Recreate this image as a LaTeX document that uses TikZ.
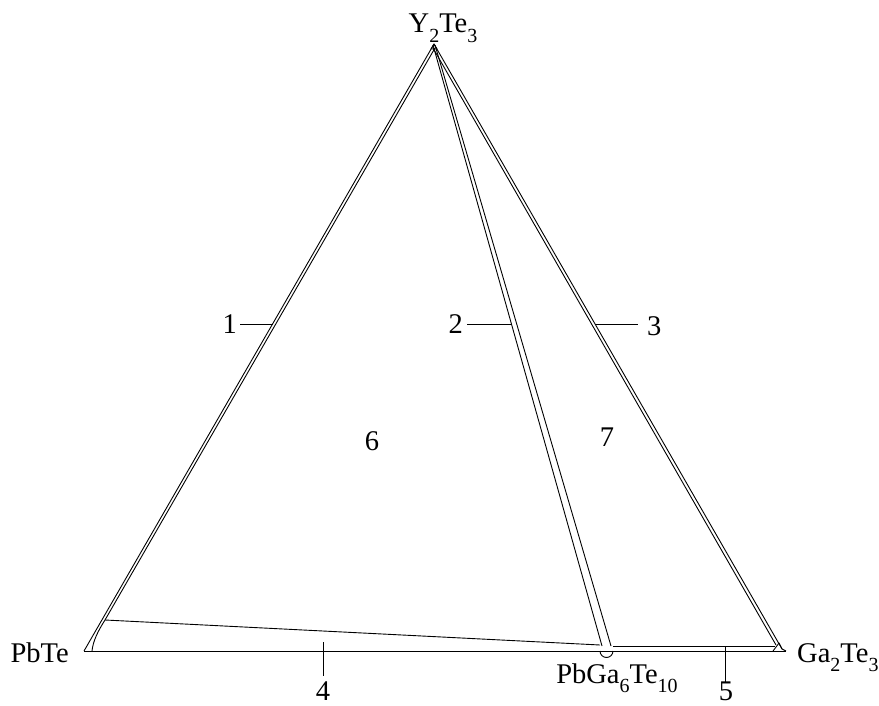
\documentclass[tikz,border=0pt]{standalone}
\usepackage{fontspec}
\setmainfont{Liberation Serif}
\newcommand\mysub[1]{\raisebox{-0.33em}{\fontsize{20}{20}\selectfont #1}}
\tikzset{
  edge/.style={line width=0.9pt, line join=round},
  callout/.style={line width=0.8pt},
  lbl/.style={inner sep=0pt, font=\fontsize{28.5}{32}\selectfont},
}
\begin{document}
\begin{tikzpicture}[x=1pt,y=-1pt]
\useasboundingbox (0,0) rectangle (879,706);
% key points
\coordinate (A) at (434,44);
\coordinate (PbTe) at (84,651);
\coordinate (Ga) at (786,651);
\coordinate (L2a) at (435,48);
\coordinate (L2b) at (105,620);
\coordinate (M1a) at (433,45);
\coordinate (M1b) at (602,646);
\coordinate (M2a) at (435,45);
\coordinate (M2b) at (611,646);
\coordinate (R1b) at (782,649);
\coordinate (R2a) at (433,48);
\coordinate (R2b) at (776,645);
\coordinate (Cu) at (92,651);
\coordinate (U1) at (613,646);
\coordinate (U2) at (775,646);
\coordinate (T1) at (773,651);
\coordinate (T2) at (779,643);
\coordinate (Ap1) at (431,49);
\coordinate (Ap2) at (437,49);
% triangle edges (double lines)
\draw[edge] (A) -- (PbTe);
\draw[edge] (L2a) -- (L2b);
\draw[edge] (M1a) -- (M1b);
\draw[edge] (M2a) -- (M2b);
\draw[edge] (A) -- (R1b);
\draw[edge] (R2a) -- (R2b);
\draw[edge] (A) -- (Ap1) -- (Ap2) -- cycle;
% bottom
\draw[edge] (PbTe) -- (Ga);
\draw[edge] (L2b) -- (600,645);
\draw[edge] (L2b) .. controls (98,631) and (93,641) .. (Cu);
\draw[edge] (600,651) arc[start angle=180, end angle=0, radius=6.5];
\draw[edge] (U1) -- (U2);
\draw[edge] (T1) -- (T2) -- (R1b) -- (Ga);
% labels
\node[lbl, anchor=base] (ytl) at (443,33) {Y\mysub{2}Te\mysub{3}};
\node[lbl, anchor=base east] (pbl) at (69,662) {PbTe};
\node[lbl, anchor=base west] (gal) at (797,662) {Ga\mysub{2}Te\mysub{3}};
\node[lbl, anchor=base] (pgl) at (617,683) {PbGa\mysub{6}Te\mysub{10}};
% callouts
\node[lbl, anchor=east] (n1) at (237,324) {1};
\coordinate (c1) at (273,324);
\draw[callout] (n1.east) ++(3,0) -- (c1);
\node[lbl, anchor=east] (n2) at (463,324) {2};
\coordinate (c2) at (511,324);
\draw[callout] (n2.east) ++(4,0) -- (c2);
\node[lbl, anchor=west] (n3) at (647,326) {3};
\coordinate (c3a) at (595,324);
\draw[callout] (c3a) -- ++(43,0);
\coordinate (c4a) at (323,642);
\coordinate (c4b) at (323,676);
\draw[callout] (c4a) -- (c4b);
\node[lbl, anchor=base] (n4) at (323,700) {4};
\coordinate (c5a) at (725,646);
\coordinate (c5b) at (725,682);
\draw[callout] (c5a) -- (c5b);
\node[lbl, anchor=base] (n5) at (726,700) {5};
\node[lbl] (n6) at (372,441) {6};
\node[lbl] (n7) at (607,437) {7};
\end{tikzpicture}
\end{document}
